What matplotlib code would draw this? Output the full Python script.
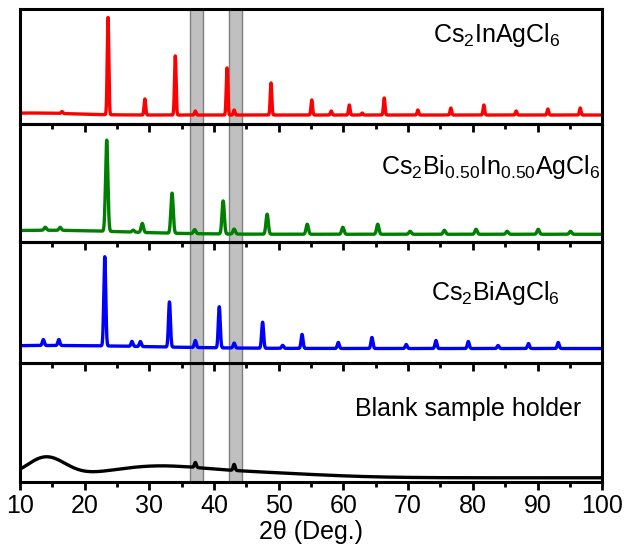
import matplotlib
matplotlib.use("Agg")
import matplotlib.pyplot as plt
import numpy as np

plt.rcParams['font.family'] = ['Liberation Sans', 'DejaVu Sans']
plt.rcParams['mathtext.fontset'] = 'custom'
plt.rcParams['mathtext.rm'] = 'Liberation Sans'
plt.rcParams['mathtext.it'] = 'Liberation Sans:italic'
plt.rcParams['xtick.direction'] = 'out'
plt.rcParams['xtick.major.size'] = 6
plt.rcParams['xtick.major.width'] = 2
plt.rcParams['xtick.minor.size'] = 3.5
plt.rcParams['xtick.minor.width'] = 2
plt.rcParams['xtick.labelsize'] = 18
plt.rcParams['xtick.major.pad'] = 3

# peak positions (2theta) and heights
red_pos = [16.5, 23.6, 29.3, 34.0, 37.1, 42.0, 43.1, 48.8, 55.1, 58.1, 60.9, 62.9,
           66.3, 71.5, 76.6, 81.7, 86.7, 91.6, 96.6]
red_int = [2, 97, 16, 59, 4, 47, 5, 32, 15, 4, 10, 2, 17, 5, 7, 10, 4, 6, 7]

green_pos = [13.9, 16.2, 23.4, 27.5, 28.9, 33.5, 37.0, 41.4, 43.1, 48.2, 54.4, 59.9,
             65.3, 70.3, 75.6, 80.5, 85.3, 90.1, 95.1]
green_int = [3, 3, 91, 2, 9, 40, 4, 33, 5, 20, 10, 7, 10, 3, 4, 5, 3, 5, 3]

blue_pos = [13.6, 16.0, 23.1, 27.3, 28.6, 33.1, 37.1, 40.8, 43.1, 47.5, 50.6, 53.6,
            59.2, 64.4, 69.7, 74.3, 79.3, 83.9, 88.6, 93.2]
blue_int = [6, 6, 89, 5, 5, 45, 7, 41, 5, 26, 3, 14, 6, 11, 4, 8, 7, 3, 5, 6]

black_pos = [37.1, 43.1]
black_int = [5, 6]

# broad amorphous humps: position, height, width
red_bg = [9, [(12, 2, 6)]]
green_bg = [8, [(14, 4, 12)]]
blue_bg = [14, [(15, 3, 15)]]
black_bg = [4, [(14, 20, 3), (30, 8, 7), (42, 6, 12)]]

labels = [r'Cs$_\mathregular{2}$InAgCl$_\mathregular{6}$',
          r'Cs$_\mathregular{2}$Bi$_\mathregular{0.50}$In$_\mathregular{0.50}$AgCl$_\mathregular{6}$',
          r'Cs$_\mathregular{2}$BiAgCl$_\mathregular{6}$',
          'Blank sample holder']
colors = ['#FF0000', '#008000', '#0000FF', '#000000']
bands = [(36.2, 38.3), (42.3, 44.3)]

x = np.linspace(10, 100, 9001)


def pattern(pos, inten, bg, w):
    y = np.full_like(x, bg[0], dtype=float)
    for p, h, s in bg[1]:
        y += h * np.exp(-(x - p) ** 2 / (2 * s ** 2))
    for p, h in zip(pos, inten):
        y += h * np.exp(-(x - p) ** 2 / (2 * w ** 2))
    return y


series = [pattern(red_pos, red_int, red_bg, 0.12),
          pattern(green_pos, green_int, green_bg, 0.18),
          pattern(blue_pos, blue_int, blue_bg, 0.15),
          pattern(black_pos, black_int, black_bg, 0.15)]
ylims = [115, 118, 120, 119]
label_pos = [(0.818, 0.77), (0.809, 0.64), (0.817, 0.575), (0.77, 0.61)]

fig, axes = plt.subplots(4, 1, figsize=(6.26, 5.5), dpi=100, sharex=True,
                         gridspec_kw={'height_ratios': ylims, 'hspace': 0})
fig.subplots_adjust(left=0.032, right=0.962, top=0.984, bottom=0.124)

for i, ax in enumerate(axes):
    # upper panels sit above, so their downward ticks show over the next panel
    ax.set_zorder(10 - i)
    ax.patch.set_alpha(0)
    for a, b in bands:
        ax.axvspan(a, b, facecolor='#C0C0C0', edgecolor='#7f7f7f', lw=1, zorder=0)
    ax.plot(x, series[i], color=colors[i], lw=2.4, zorder=2)
    ax.set_xlim(10, 100)
    ax.set_ylim(0, ylims[i])
    ax.set_yticks([])
    for sp in ax.spines.values():
        sp.set_linewidth(2.2)
    ax.text(label_pos[i][0], label_pos[i][1], labels[i], transform=ax.transAxes,
            ha='center', va='center', fontsize=18)

axes[-1].set_xlabel('2θ (Deg.)', fontsize=18, labelpad=1)

for ax in axes:
    ax.set_xticks(np.arange(10, 101, 10))
    ax.set_xticks(np.arange(15, 100, 10), minor=True)
    ax.tick_params(axis='x', which='both', bottom=True, direction='out')

fig.savefig('out.png', dpi=100)
